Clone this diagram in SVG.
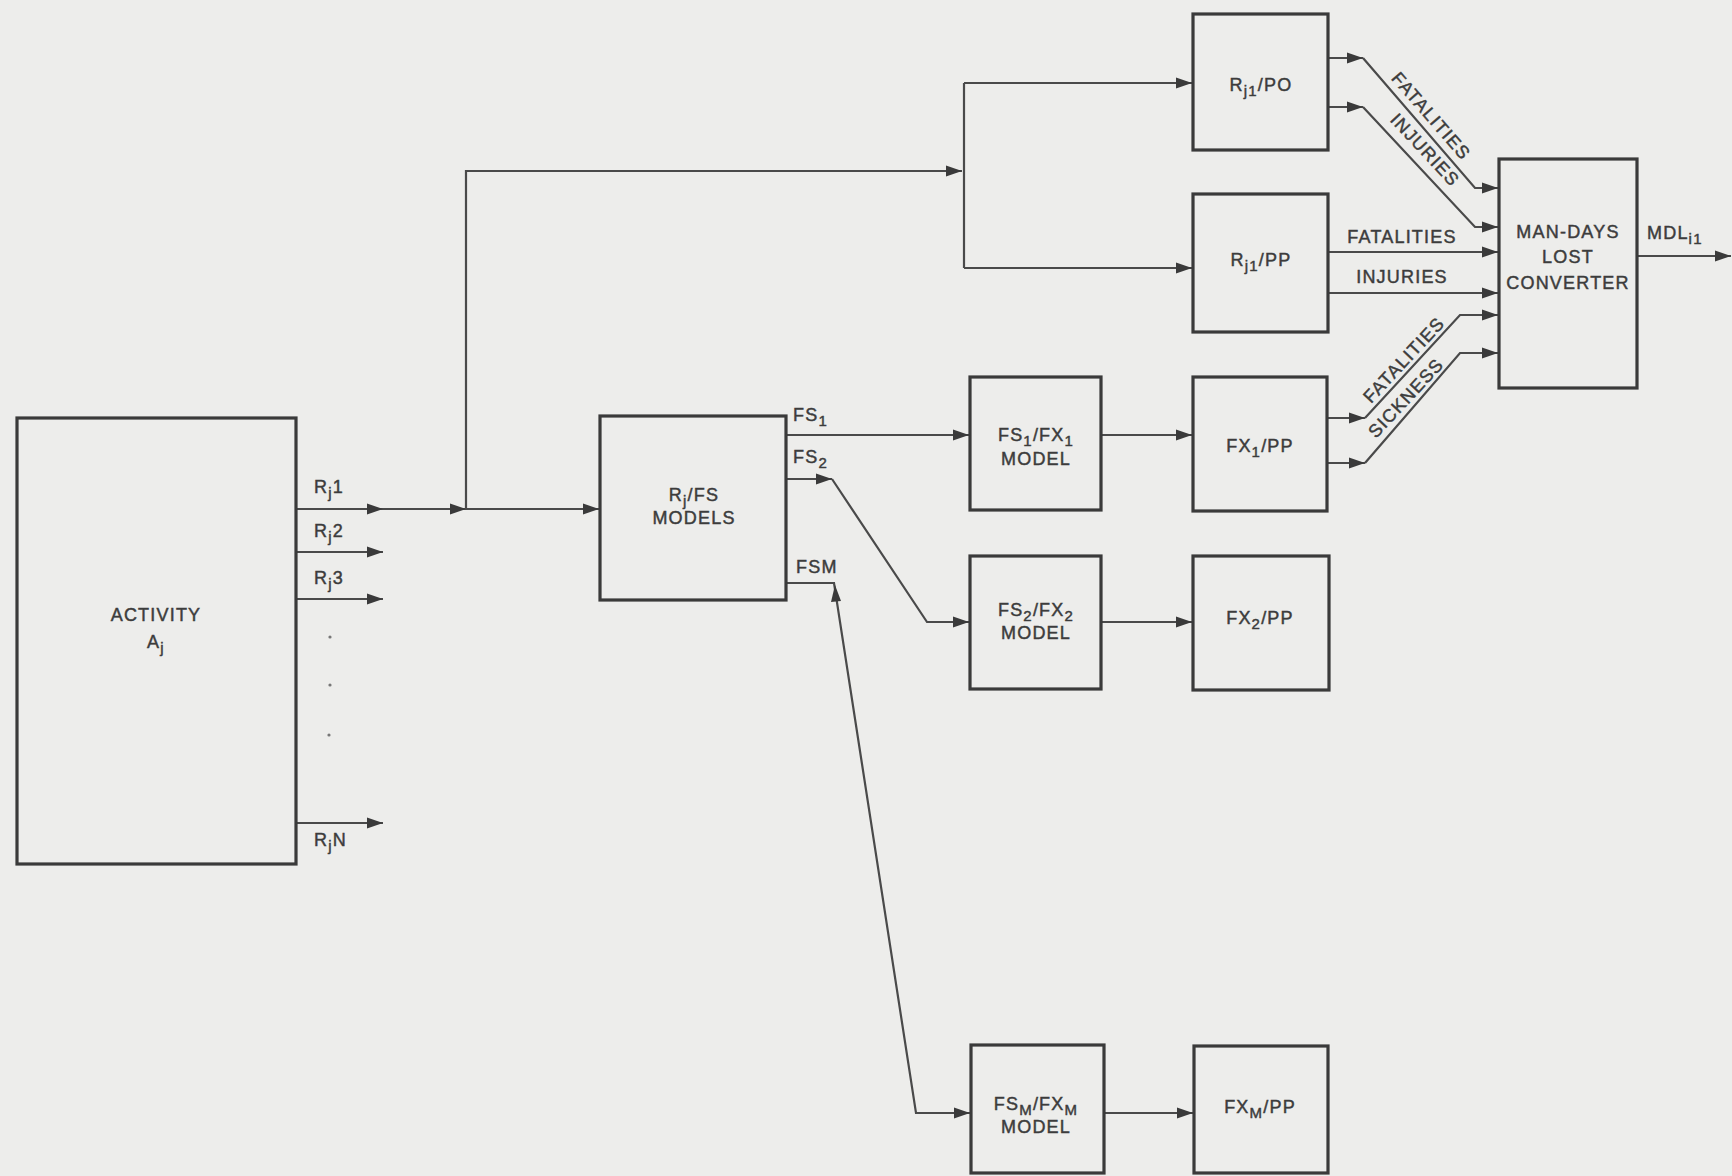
<svg xmlns="http://www.w3.org/2000/svg" width="1732" height="1176" viewBox="0 0 1732 1176">
<defs>
<style>
.box{fill:none;stroke:#3a3a3a;stroke-width:3.2}
.ln{fill:none;stroke:#4a4a4a;stroke-width:2.2}
.t{fill:#3c3c3c;stroke:#3c3c3c;stroke-width:0.45;font-family:"Liberation Sans",Arial,Helvetica,sans-serif;font-size:18px;letter-spacing:1.2px}
.m{text-anchor:middle}
.sub{font-size:15px}
</style>
<marker id="ah" markerUnits="userSpaceOnUse" markerWidth="18" markerHeight="12" refX="16" refY="6" orient="auto">
<path d="M0,0.5 L16,6 L0,11.5 z" fill="#3a3a3a"/>
</marker>
</defs>
<rect x="0" y="0" width="1732" height="1176" fill="#ededeb"/>

<g id="connectors">
<path class="ln" d="M296,509 H383" marker-end="url(#ah)"/>
<path class="ln" d="M383,509 H466" marker-end="url(#ah)"/>
<path class="ln" d="M466,509 H599" marker-end="url(#ah)"/>
<path class="ln" d="M466,509 V171 H962" marker-end="url(#ah)"/>
<path class="ln" d="M964,83 V268"/>
<path class="ln" d="M964,83 H1192" marker-end="url(#ah)"/>
<path class="ln" d="M964,268 H1192" marker-end="url(#ah)"/>
<path class="ln" d="M296,552 H383" marker-end="url(#ah)"/>
<path class="ln" d="M296,599 H383" marker-end="url(#ah)"/>
<path class="ln" d="M296,823 H383" marker-end="url(#ah)"/>
<circle cx="330" cy="637" r="1.6" fill="#777"/>
<circle cx="330" cy="685" r="1.6" fill="#777"/>
<circle cx="329" cy="735" r="1.6" fill="#777"/>
<path class="ln" d="M787,435 H969" marker-end="url(#ah)"/>
<path class="ln" d="M787,479 H832" marker-end="url(#ah)"/>
<path class="ln" d="M832,479 L927,622 H969" marker-end="url(#ah)"/>
<path class="ln" d="M787,583 H834 L916,1113 H970" marker-end="url(#ah)"/>
<path d="M835,585 L841,601 L831,602 z" fill="#3a3a3a"/>
<path class="ln" d="M1102,435 H1192" marker-end="url(#ah)"/>
<path class="ln" d="M1102,622 H1192" marker-end="url(#ah)"/>
<path class="ln" d="M1105,1113 H1193" marker-end="url(#ah)"/>
<path class="ln" d="M1328,58 H1363" marker-end="url(#ah)"/>
<path class="ln" d="M1363,58 L1475,188 H1498" marker-end="url(#ah)"/>
<path class="ln" d="M1328,107 H1363" marker-end="url(#ah)"/>
<path class="ln" d="M1363,107 L1475,227 H1498" marker-end="url(#ah)"/>
<path class="ln" d="M1328,252 H1498" marker-end="url(#ah)"/>
<path class="ln" d="M1328,293 H1498" marker-end="url(#ah)"/>
<path class="ln" d="M1327,418 H1365" marker-end="url(#ah)"/>
<path class="ln" d="M1365,418 L1460,315 H1498" marker-end="url(#ah)"/>
<path class="ln" d="M1327,463 H1365" marker-end="url(#ah)"/>
<path class="ln" d="M1365,463 L1460,353 H1498" marker-end="url(#ah)"/>
<path class="ln" d="M1637,256 H1731" marker-end="url(#ah)"/>
</g>

<g id="labels">
<text class="t" x="314" y="493">R<tspan class="sub" dy="5">j</tspan><tspan dy="-5">1</tspan></text>
<text class="t" x="314" y="537">R<tspan class="sub" dy="5">j</tspan><tspan dy="-5">2</tspan></text>
<text class="t" x="314" y="584">R<tspan class="sub" dy="5">j</tspan><tspan dy="-5">3</tspan></text>
<text class="t" x="314" y="846">R<tspan class="sub" dy="5">j</tspan><tspan dy="-5">N</tspan></text>
<text class="t" x="793" y="421">FS<tspan class="sub" dy="5">1</tspan></text>
<text class="t" x="793" y="463">FS<tspan class="sub" dy="5">2</tspan></text>
<text class="t" x="796" y="573">FSM</text>
<text class="t m" x="1402" y="243">FATALITIES</text>
<text class="t m" x="1402" y="283">INJURIES</text>
<text class="t m" transform="translate(1431,116) rotate(49)" y="6">FATALITIES</text>
<text class="t m" transform="translate(1425,150) rotate(47)" y="6">INJURIES</text>
<text class="t m" transform="translate(1404,360) rotate(-47)" y="6">FATALITIES</text>
<text class="t m" transform="translate(1406,398) rotate(-47)" y="6">SICKNESS</text>
<text class="t" x="1647" y="239">MDL<tspan class="sub" dy="5">i1</tspan></text>
</g>

<g id="activity">
<rect class="box" x="17" y="418" width="279" height="446"/>
<text class="t m" x="156" y="621">ACTIVITY</text>
<text class="t m" x="156" y="648">A<tspan class="sub" dy="5">j</tspan></text>
</g>

<g id="rjfs">
<rect class="box" x="600" y="416" width="186" height="184"/>
<text class="t m" x="694" y="501">R<tspan class="sub" dy="5">j</tspan><tspan dy="-5">/FS</tspan></text>
<text class="t m" x="694" y="524">MODELS</text>
</g>

<g id="fs1fx1">
<rect class="box" x="970" y="377" width="131" height="133"/>
<text class="t m" x="1036" y="441">FS<tspan class="sub" dy="5">1</tspan><tspan dy="-5">/FX</tspan><tspan class="sub" dy="5">1</tspan></text>
<text class="t m" x="1036" y="465">MODEL</text>
</g>

<g id="fs2fx2">
<rect class="box" x="970" y="556" width="131" height="133"/>
<text class="t m" x="1036" y="616">FS<tspan class="sub" dy="5">2</tspan><tspan dy="-5">/FX</tspan><tspan class="sub" dy="5">2</tspan></text>
<text class="t m" x="1036" y="639">MODEL</text>
</g>

<g id="fsmfxm">
<rect class="box" x="971" y="1045" width="133" height="128"/>
<text class="t m" x="1036" y="1110">FS<tspan class="sub" dy="5">M</tspan><tspan dy="-5">/FX</tspan><tspan class="sub" dy="5">M</tspan></text>
<text class="t m" x="1036" y="1133">MODEL</text>
</g>

<g id="rj1po">
<rect class="box" x="1193" y="14" width="135" height="136"/>
<text class="t m" x="1261" y="91">R<tspan class="sub" dy="5">j1</tspan><tspan dy="-5">/PO</tspan></text>
</g>

<g id="rj1pp">
<rect class="box" x="1193" y="194" width="135" height="138"/>
<text class="t m" x="1261" y="266">R<tspan class="sub" dy="5">j1</tspan><tspan dy="-5">/PP</tspan></text>
</g>

<g id="fx1pp">
<rect class="box" x="1193" y="377" width="134" height="134"/>
<text class="t m" x="1260" y="452">FX<tspan class="sub" dy="5">1</tspan><tspan dy="-5">/PP</tspan></text>
</g>

<g id="fx2pp">
<rect class="box" x="1193" y="556" width="136" height="134"/>
<text class="t m" x="1260" y="624">FX<tspan class="sub" dy="5">2</tspan><tspan dy="-5">/PP</tspan></text>
</g>

<g id="fxmpp">
<rect class="box" x="1194" y="1046" width="134" height="127"/>
<text class="t m" x="1260" y="1113">FX<tspan class="sub" dy="5">M</tspan><tspan dy="-5">/PP</tspan></text>
</g>

<g id="converter">
<rect class="box" x="1499" y="159" width="138" height="229"/>
<text class="t m" x="1568" y="238">MAN-DAYS</text>
<text class="t m" x="1568" y="263">LOST</text>
<text class="t m" x="1568" y="289">CONVERTER</text>
</g>
</svg>
